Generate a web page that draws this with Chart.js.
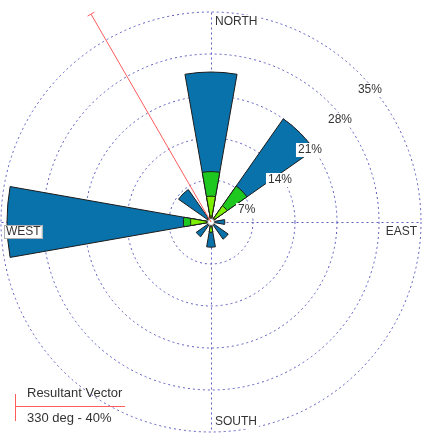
<!DOCTYPE html>
<html lang="en">
<head>
<meta charset="UTF-8">
<title>Wind Rose</title>
<script src="https://cdn.jsdelivr.net/npm/chart.js"></script>
<style>
  body { margin: 0; background: #fff; }
  .rose { position: relative; width: 424px; height: 434px; }
</style>
</head>
<body>
<div class="rose"><canvas id="rose"></canvas></div>
<script>
// 16 compass sectors, clockwise from north
const directions = ['N', 'NNE', 'NE', 'ENE', 'E', 'ESE', 'SE', 'SSE', 'S', 'SSW', 'SW', 'WSW', 'W', 'WNW', 'NW', 'NNW'];

// frequency (%) of each speed class per sector, slowest class first
const class1 = [1.0, 0, 0.8, 0, 0, 0, 0, 0, 0.8, 0, 0, 0, 0.7, 0, 0, 0];
const class2 = [3.3, 0, 2.5, 0, 0, 0, 0, 0, 0.9, 0, 0, 0, 2.7, 0, 0.8, 0];
const class3 = [4.1, 0, 4.0, 0, 0, 0, 0, 0, 0, 0, 0, 0, 1.2, 0, 0, 0];
const class4 = [16.6, 0, 13.7, 0, 2.3, 0, 3.5, 0, 2.5, 0, 3.0, 0, 29.4, 0, 5.8, 0];

const ringTicks = [7, 14, 21, 28, 35];
const compassLabels = ['NORTH', 'EAST', 'SOUTH', 'WEST'];
const resultantDeg = 330;
const resultantPct = 40;

const classColors = ['#c8c000', '#7cf000', '#1ec81e', '#0a72ab'];
const gridColor = '#5c5cc0';
const vectorColor = '#ff5c5c';
const FONT = '"Liberation Sans", Arial, sans-serif';

// running totals so each class sits on top of the slower ones
const classes = [class1, class2, class3, class4];
const cumulative = classes.map((_, c) =>
  directions.map((d, i) => classes.slice(0, c + 1).reduce((s, arr) => s + arr[i], 0)));

// every sector is followed by an empty slot that leaves the gap between wedges
const withGaps = vals => vals.flatMap(v => [v, 0]);
const labels = directions.flatMap(d => [d, '']);

const datasets = cumulative.map((vals, c) => ({
  data: withGaps(vals),
  backgroundColor: classColors[c],
  borderColor: '#1c1c1c',
  borderWidth: ctx => (ctx.index % 2 || !ctx.raw) ? 0 : 1,
  angle: ctx => ctx.index % 2 ? 2.5 : 20
}));

function textBox(ctx, text, x, y, align, border) {
  ctx.font = '12px ' + FONT;
  const w = ctx.measureText(text).width;
  const left = align === 'right' ? x - w : x;
  ctx.fillStyle = '#fff';
  ctx.fillRect(left - 2, y - 7, w + 4, 14);
  if (border) {
    ctx.strokeStyle = '#b0b0b0';
    ctx.lineWidth = 1;
    ctx.strokeRect(left - 1.5, y - 6.5, w + 3, 13);
  }
  ctx.fillStyle = '#333';
  ctx.textAlign = align;
  ctx.textBaseline = 'middle';
  ctx.fillText(text, x, y);
}

const roseDecor = {
  id: 'roseDecor',
  beforeDatasetsDraw(chart) {
    const s = chart.scales.r, ctx = chart.ctx;
    const cx = s.xCenter + 0.5, cy = s.yCenter + 0.5, R = s.drawingArea;
    ctx.save();
    ctx.strokeStyle = gridColor;
    ctx.lineWidth = 1;
    ctx.setLineDash([2, 3]);
    ctx.beginPath();
    ctx.moveTo(cx, cy - R); ctx.lineTo(cx, cy + R);
    ctx.moveTo(cx - R, cy); ctx.lineTo(cx + R, cy);
    ctx.stroke();
    ctx.restore();
  },
  afterDatasetsDraw(chart) {
    const s = chart.scales.r, ctx = chart.ctx;
    const cx = s.xCenter, cy = s.yCenter, R = s.drawingArea;
    ctx.save();

    // calm hole in the middle
    ctx.beginPath();
    ctx.arc(cx, cy, 3.5, 0, Math.PI * 2);
    ctx.fillStyle = '#fff';
    ctx.fill();
    ctx.strokeStyle = '#555';
    ctx.lineWidth = 0.8;
    ctx.stroke();

    // resultant vector
    const a = resultantDeg * Math.PI / 180;
    const L = s.getDistanceFromCenterForValue(resultantPct);
    const ex = cx + L * Math.sin(a), ey = cy - L * Math.cos(a);
    ctx.strokeStyle = vectorColor;
    ctx.lineWidth = 1;
    ctx.beginPath();
    ctx.moveTo(cx, cy); ctx.lineTo(ex, ey);
    ctx.moveTo(ex - 4 * Math.cos(a), ey - 4 * Math.sin(a));
    ctx.lineTo(ex + 4 * Math.cos(a), ey + 4 * Math.sin(a));
    ctx.stroke();

    // ring percentages along the north-east diagonal
    ringTicks.forEach(t => {
      const d = s.getDistanceFromCenterForValue(t) * 0.714;
      textBox(ctx, t + '%', cx + d - 3, cy - d + 18, 'left', false);
    });

    // compass points
    textBox(ctx, compassLabels[0], cx + 4, cy - R + 10, 'left', false);
    textBox(ctx, compassLabels[1], cx + R - 4, cy + 10, 'right', false);
    textBox(ctx, compassLabels[2], cx + 4, cy + R - 10, 'left', false);
    textBox(ctx, compassLabels[3], cx - R + 5, cy + 10, 'left', true);

    // legend for the resultant vector
    ctx.strokeStyle = vectorColor;
    ctx.beginPath();
    ctx.moveTo(15, 406.5); ctx.lineTo(125, 406.5);
    ctx.moveTo(15.5, 394); ctx.lineTo(15.5, 421);
    ctx.stroke();
    ctx.font = '13px ' + FONT;
    ctx.fillStyle = '#333';
    ctx.textAlign = 'left';
    ctx.textBaseline = 'middle';
    ctx.fillText('Resultant Vector', 27, 393);
    ctx.fillText(resultantDeg + ' deg - ' + resultantPct + '%', 27, 418);
    ctx.restore();
  }
};

new Chart(document.getElementById('rose'), {
  type: 'polarArea',
  data: { labels, datasets },
  options: {
    responsive: true,
    maintainAspectRatio: false,
    animation: false,
    layout: { padding: { left: 1, right: 3, top: 12, bottom: 2 } },
    plugins: { legend: { display: false }, tooltip: { enabled: false } },
    scales: {
      r: {
        min: 0,
        max: 35,
        startAngle: -10,
        ticks: { display: false, stepSize: 7 },
        grid: { circular: true, color: gridColor, lineWidth: 1 },
        border: { dash: [2, 3] },
        angleLines: { display: false },
        pointLabels: { display: false }
      }
    }
  },
  plugins: [roseDecor]
});
</script>
</body>
</html>
